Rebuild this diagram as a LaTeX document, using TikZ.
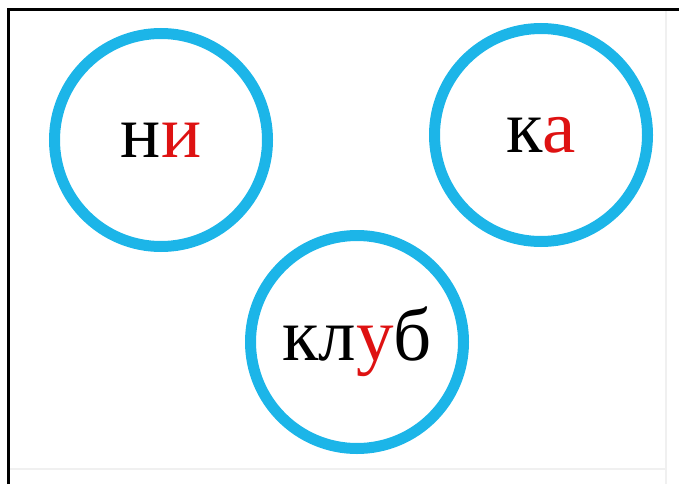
\documentclass[tikz,border=0pt]{standalone}
\usepackage{fontspec}
\setmainfont{Liberation Serif}
\usepackage{xcolor}
\definecolor{ringblue}{RGB}{28,181,232}
\definecolor{syllred}{RGB}{222,18,18}
\tikzset{
	ring/.style={% Blue circles round the syllables
		draw=ringblue,
		shape=circle,
		line width=11pt,
		minimum size=213pt,
		inner sep=0pt,
		font=\fontsize{75}{85}\selectfont,
		text=black,
		align=center
	},
	frameline/.style={line width=3pt, black}
}
\newcommand*{\hl}[1]{\textcolor{syllred}{#1}}

\begin{document}
\begin{tikzpicture}[x=1pt,y=-1pt]
		\useasboundingbox (0,0) rectangle (679,484);
		
		% Frame: dark top and left, faint right and bottom.
		\draw[gray!12, line width=1.5pt] (666,10) -- (666,484) (8,469) -- (666,469);
		\draw[frameline] (8,484) -- (8,10) -- (679,10);
		
		\node[ring] (ni) at (161,140) {н\hl{и}};
		\node[ring] (ka) at (541,135) {к\hl{а}};
		\node[ring] (klub) at (357,342) {кл\hl{у}б};
	\end{tikzpicture}
\end{document}
